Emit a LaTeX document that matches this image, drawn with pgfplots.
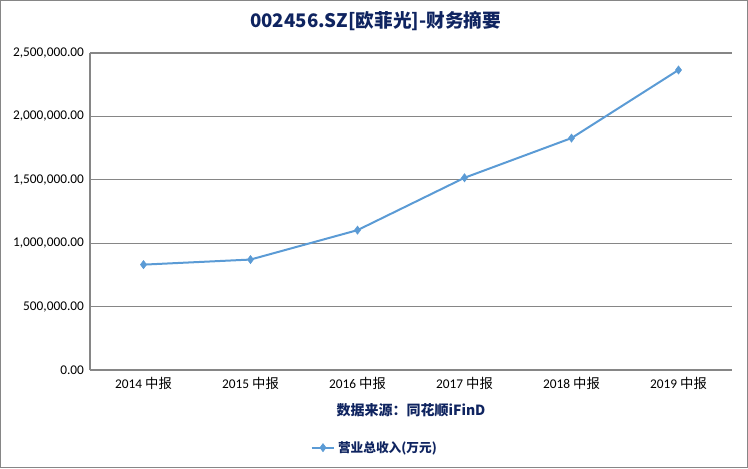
\documentclass[border=0pt]{standalone}
\usepackage{pgfplots}
\pgfplotsset{compat=1.18}
\usepackage{fontspec}
\setmainfont{Carlito}
\newfontfamily\cjk{Noto Sans CJK SC}
\definecolor{lineblue}{RGB}{91,155,213}
\definecolor{navy}{RGB}{15,36,96}
\definecolor{gridgray}{RGB}{134,134,134}
\begin{document}
\begin{tikzpicture}[x=1pt,y=1pt]
\draw[gridgray, line width=0.8pt] (0.4,0.4) rectangle (560.6,350.6);
\begin{axis}[
  at={(67.5pt,73.5pt)}, anchor=south west,
  scale only axis, width=481.5pt, height=237.75pt,
  xmin=-0.5, xmax=5.5, ymin=0, ymax=2500000,
  xtick={0,1,2,3,4,5},
  xticklabels={2014 {\cjk 中报},2015 {\cjk 中报},2016 {\cjk 中报},2017 {\cjk 中报},2018 {\cjk 中报},2019 {\cjk 中报}},
  ytick={0,500000,1000000,1500000,2000000,2500000},
  scaled y ticks=false,
  yticklabel style={/pgf/number format/fixed, /pgf/number format/fixed zerofill, /pgf/number format/precision=2, /pgf/number format/1000 sep={,}, /pgf/number format/assume math mode=true, xshift=-1pt},
  ticklabel style={font=\fontsize{10}{11}\selectfont, text=black},
  major tick length=0pt,
  axis x line*=bottom, axis y line*=left,
  axis line style={gridgray, line width=0.8pt},
  ymajorgrids, grid style={gridgray, line width=0.8pt},
  xtick pos=bottom, ytick pos=left,
  x tick label style={yshift=-2pt},
  title={\cjk\bfseries 002456.SZ[欧菲光]-财务摘要},
  title style={font=\fontsize{14}{16}\selectfont, text=navy, at={(0.445,1)}, anchor=base, yshift=13pt},
  xlabel={\cjk\bfseries 数据来源：同花顺iFinD},
  xlabel style={font=\fontsize{10.5}{12}\selectfont, text=navy, at={(axis description cs:0.5,0)}, anchor=base, yshift=-34pt},
  legend style={at={(0.444,-0.245)}, anchor=center, draw=none, fill=none, font=\cjk\bfseries\fontsize{9.5}{10}\selectfont, text=navy},
]
\addplot[lineblue, line width=1.5pt, mark=diamond*, mark size=3pt, mark options={fill=lineblue, draw=lineblue, line width=0.5pt}]
  coordinates {(0,831000) (1,871000) (2,1103000) (3,1516000) (4,1829000) (5,2366000)};
\addlegendentry{营业总收入(万元)}
\end{axis}
\pgfresetboundingbox
\path (0,0) rectangle (561,351);
\end{tikzpicture}
\end{document}
